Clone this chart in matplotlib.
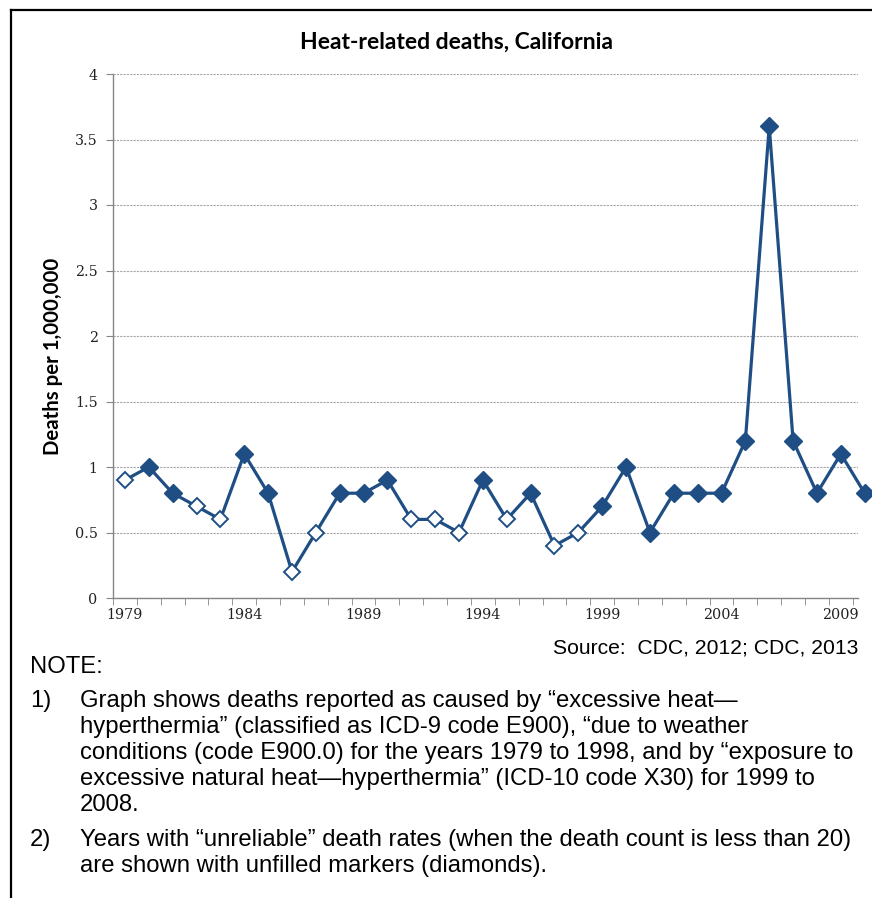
import matplotlib
matplotlib.use("Agg")
import matplotlib.pyplot as plt
from matplotlib.lines import Line2D
import numpy as np

years = list(range(1979, 2011))
rates = [0.9, 1.0, 0.8, 0.7, 0.6, 1.1, 0.8, 0.2, 0.5, 0.8, 0.8, 0.9, 0.6, 0.6, 0.5, 0.9,
         0.6, 0.8, 0.4, 0.5, 0.7, 1.0, 0.5, 0.8, 0.8, 0.8, 1.2, 3.6, 1.2, 0.8, 1.1, 0.8]
unreliable = [1, 0, 0, 1, 1, 0, 0, 1, 1, 0, 0, 0, 1, 1, 1, 0,
              1, 0, 1, 1, 0, 0, 0, 0, 0, 0, 0, 0, 0, 0, 0, 0]
yticks = [0, 0.5, 1, 1.5, 2, 2.5, 3, 3.5, 4]
ytick_labels = ["0", "0.5", "1", "1.5", "2", "2.5", "3", "3.5", "4"]
xtick_years = [1979, 1984, 1989, 1994, 1999, 2004, 2009]

title = "Heat-related deaths, California"
ylabel = "Deaths per 1,000,000"
source = "Source:  CDC, 2012; CDC, 2013"
notes = [
    ("NOTE:", None),
    ("1)", "Graph shows deaths reported as caused by \u201cexcessive heat\u2014"),
    (None, "hyperthermia\u201d (classified as ICD-9 code E900), \u201cdue to weather"),
    (None, "conditions (code E900.0) for the years 1979 to 1998, and by \u201cexposure to"),
    (None, "excessive natural heat\u2014hyperthermia\u201d (ICD-10 code X30) for 1999 to"),
    (None, "2008."),
    ("2)", "Years with \u201cunreliable\u201d death rates (when the death count is less than 20)"),
    (None, "are shown with unfilled markers (diamonds)."),
]

W, H = 872, 898
fig = plt.figure(figsize=(W / 100, H / 100), dpi=100)
ax = fig.add_axes([113 / W, 1 - 598 / H, (858 - 113) / W, (598 - 74) / H])

blue = "#1f4e85"
x = np.array(years)
y = np.array(rates)
unrel = np.array(unreliable, dtype=bool)
ax.plot(x, y, color=blue, lw=2.3, zorder=3, clip_on=False)
ax.plot(x[~unrel], y[~unrel], ls="none", marker="D", ms=8.8, mfc=blue, mec=blue,
        zorder=4, clip_on=False)
ax.plot(x[unrel], y[unrel], ls="none", marker="D", ms=8.2, mfc="white", mec=blue,
        mew=1.4, zorder=4, clip_on=False)

ax.set_xlim(1978.5, 2009.72)
ax.set_ylim(0, 4)
ax.set_yticks(yticks)
ax.set_yticklabels(ytick_labels, fontfamily="DejaVu Serif", fontsize=10.3, color="#222222")
ax.set_xticks(xtick_years)
ax.set_xticklabels([str(v) for v in xtick_years], fontfamily="DejaVu Serif", fontsize=10.3,
                   color="#222222")
ax.set_xticks(np.arange(1978.5, 2010, 1), minor=True)
ax.tick_params(axis="x", which="major", length=0, pad=7)
ax.tick_params(axis="x", which="minor", length=5, color="#868686", direction="out")
ax.tick_params(axis="y", length=5, color="#868686", direction="out", pad=6)
ax.grid(axis="y", color="#a6a6a6", ls=(0, (2, 1)), lw=0.8)
ax.set_axisbelow(True)
for s in ["top", "right"]:
    ax.spines[s].set_visible(False)
for s in ["left", "bottom"]:
    ax.spines[s].set_color("#868686")
    ax.spines[s].set_linewidth(1.0)

fig.text(456 / W, 1 - 42 / H, title, ha="center", va="center", fontfamily="Lato",
         fontweight="bold", fontsize=16.5)
fig.text(53 / W, 1 - 356 / H, ylabel, ha="center", va="center", rotation=90,
         fontfamily="Lato", fontweight="bold", fontsize=14.7)
fig.text(858 / W, 1 - 648 / H, source, ha="right", va="center",
         fontfamily="Liberation Sans", fontsize=15.2)

ys = [667, 701, 727, 753, 779, 805, 840, 866]
for (lab, txt), yy in zip(notes, ys):
    if lab is not None:
        fig.text(30 / W, 1 - yy / H, lab, ha="left", va="center",
                 fontfamily="Liberation Sans", fontsize=17.2)
    if txt is not None:
        fig.text(80 / W, 1 - yy / H, txt, ha="left", va="center",
                 fontfamily="Liberation Sans", fontsize=17.2)

# frame
fig.add_artist(Line2D([11 / W, 11 / W], [0, 1 - 10 / H], color="black", lw=1.6,
                      transform=fig.transFigure))
fig.add_artist(Line2D([11 / W, 1], [1 - 10 / H, 1 - 10 / H], color="black", lw=1.6,
                      transform=fig.transFigure))

fig.savefig("out.png", dpi=100)
